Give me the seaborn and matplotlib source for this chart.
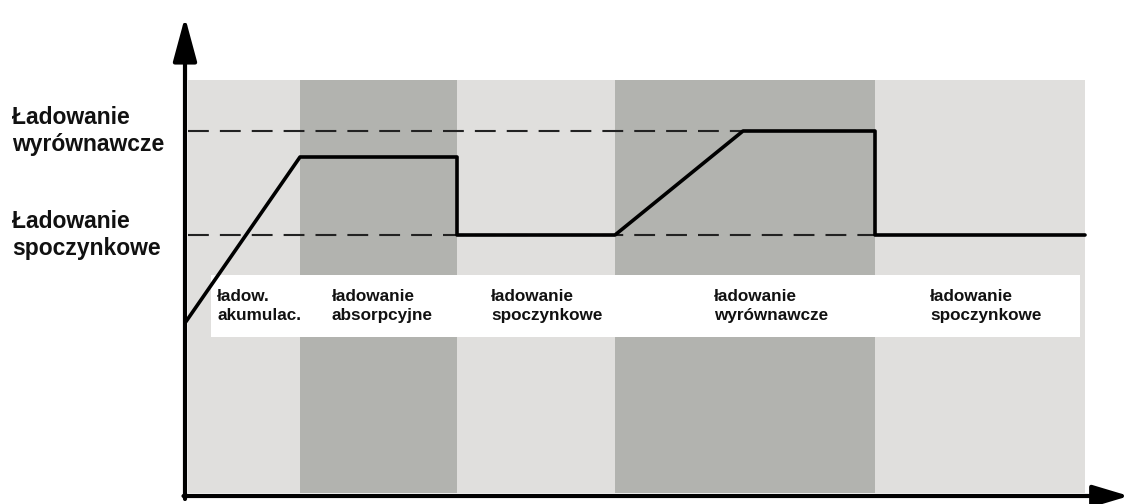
import numpy as np
import matplotlib
matplotlib.use("Agg")
import matplotlib.pyplot as plt
import seaborn as sns

# Charging phases (time in arbitrary units, voltage in arbitrary units)
phase_edges = [0.3, 11.5, 27.2, 43.0, 69.0, 90.0]
phase_shades = ["light", "dark", "light", "dark", "light"]
phase_labels = [
    "ładow.\nakumulac.",
    "ładowanie\nabsorpcyjne",
    "ładowanie\nspoczynkowe",
    "ładowanie\nwyrównawcze",
    "ładowanie\nspoczynkowe",
]

# Charging voltage profile
profile_t = [0.0, 11.5, 27.2, 27.2, 43.0, 55.8, 69.0, 69.0, 90.0]
profile_u = [17.3, 33.9, 33.9, 26.1, 26.1, 36.5, 36.5, 26.1, 26.1]

# Reference levels
level_names = ["Ładowanie\nwyrównawcze", "Ładowanie\nspoczynkowe"]
level_values = [36.5, 26.1]

BG_TOP = 41.6
BG_BOTTOM = 0.3
shade_colors = {"light": "#e0dfdd", "dark": "#b2b3af"}

sns.set_style("white")
plt.rcParams["font.family"] = ["Liberation Sans", "DejaVu Sans"]

fig = plt.figure(figsize=(11.25, 5.04), dpi=100)
ax = fig.add_axes([0, 0, 1, 1])
ax.set_xlim(-18.5, 94.0)
ax.set_ylim(-0.8, 49.6)
ax.axis("off")

# background bands for each phase
lefts = phase_edges[:-1]
widths = np.diff(phase_edges)
ax.bar(lefts, BG_TOP - BG_BOTTOM, width=widths, bottom=BG_BOTTOM, align="edge",
       color=[shade_colors[s] for s in phase_shades], linewidth=0, zorder=1)

# white label strip
ax.fill_between([2.6, 89.5], 15.9, 22.1, color="white", linewidth=0, zorder=2)
for left, lab in zip([3.2, 14.7, 30.6, 52.9, 74.5], phase_labels):
    ax.text(left, 19.0, lab, ha="left", va="center", fontsize=12.3,
            fontweight="bold", linespacing=1.3, color="#111111", zorder=3)

# dashed reference levels
for lv in level_values:
    ax.hlines(lv, phase_edges[0], 69.0, colors="#222222", linewidth=1.5,
              linestyles=(0, (10, 5.3)), zorder=3)

# left labels for levels
for name, lv in zip(level_names, level_values):
    ax.text(-17.3, lv, name, ha="left", va="center", fontsize=16.5,
            fontweight="bold", linespacing=1.2, color="#111111")

# charging profile
sns.lineplot(x=profile_t, y=profile_u, sort=False, estimator=None, color="black",
             linewidth=2.6, ax=ax, zorder=4)

# axes with arrow heads
ax.annotate("", xy=(0, 47.9), xytext=(0, -0.3), annotation_clip=False,
            arrowprops=dict(arrowstyle="-|>,head_length=1.0,head_width=0.27",
                            mutation_scale=27, lw=3, color="black",
                            shrinkA=0, shrinkB=0), zorder=5)
ax.annotate("", xy=(94.4, 0), xytext=(-0.15, 0), annotation_clip=False,
            arrowprops=dict(arrowstyle="-|>,head_length=1.0,head_width=0.3",
                            mutation_scale=22, lw=3, color="black",
                            shrinkA=0, shrinkB=0), zorder=5)

fig.savefig("out.png", dpi=100, facecolor="white")
